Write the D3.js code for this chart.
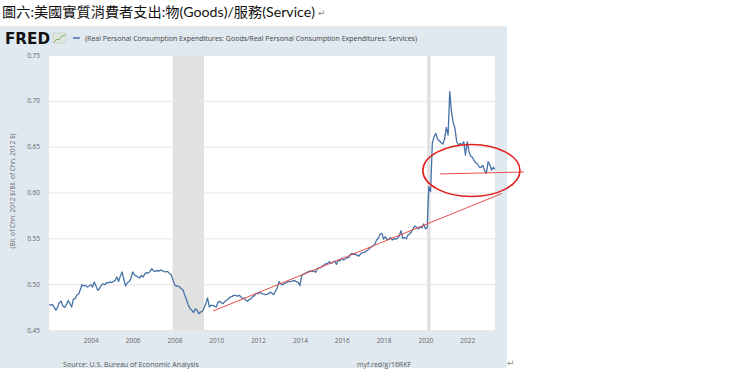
<!DOCTYPE html>
<html>
<head>
<meta charset="utf-8">
<script src="https://cdn.jsdelivr.net/npm/d3@7"></script>
<style>
  body { margin: 0; background: #fff; }
  svg { display: block; }
</style>
</head>
<body>
<div id="chart"></div>
<script>
// goods / services ratio, monthly from Jan 2002
const startMonth = new Date(2002, 0, 1);
const ratio = [
  0.4776, 0.477, 0.478, 0.475, 0.4715, 0.475, 0.480, 0.4815, 0.476, 0.4745, 0.4776, 0.482,   // 2002
  0.479, 0.475, 0.4835, 0.4842, 0.488, 0.489, 0.494, 0.4994, 0.498, 0.4987, 0.4969, 0.498,   // 2003
  0.4994, 0.4969, 0.5024, 0.498, 0.4933, 0.495, 0.4987, 0.5005, 0.4994, 0.5016, 0.5013, 0.5024, // 2004
  0.5016, 0.503, 0.504, 0.5078, 0.503, 0.509, 0.5133, 0.505, 0.498, 0.5016, 0.503, 0.506,   // 2005
  0.5133, 0.5104, 0.509, 0.5078, 0.5067, 0.5097, 0.5078, 0.511, 0.5126, 0.512, 0.514, 0.5169, // 2006
  0.5144, 0.514, 0.515, 0.514, 0.5155, 0.5148, 0.514, 0.5133, 0.514, 0.512, 0.5105, 0.506,  // 2007
  0.4995, 0.498, 0.498, 0.4969, 0.495, 0.4933, 0.4878, 0.4824, 0.4769, 0.4733, 0.4715, 0.469, // 2008
  0.4733, 0.4715, 0.4678, 0.4696, 0.4702, 0.474, 0.4787, 0.485, 0.4751, 0.4769, 0.4769, 0.476, // 2009
  0.4751, 0.4805, 0.4813, 0.4798, 0.4787, 0.4813, 0.4824, 0.4842, 0.486, 0.4864, 0.4878, 0.4878, // 2010
  0.487, 0.4878, 0.4867, 0.4842, 0.485, 0.4824, 0.4813, 0.4835, 0.4842, 0.4864, 0.4878, 0.49, // 2011
  0.4896, 0.4915, 0.4896, 0.4893, 0.4885, 0.4889, 0.4896, 0.4913, 0.490, 0.4889, 0.4925, 0.496, // 2012
  0.5027, 0.5002, 0.4991, 0.5009, 0.5013, 0.5027, 0.5027, 0.503, 0.5035, 0.504, 0.5027, 0.502, // 2013
  0.4984, 0.5093, 0.5107, 0.5118, 0.5129, 0.5136, 0.5144, 0.5136, 0.5144, 0.5129, 0.5165, 0.518, // 2014
  0.518, 0.52, 0.5209, 0.5224, 0.5227, 0.5245, 0.5227, 0.5238, 0.5253, 0.5216, 0.5264, 0.5253, // 2015
  0.5282, 0.5264, 0.5275, 0.5289, 0.5289, 0.5325, 0.5336, 0.5325, 0.5329, 0.531, 0.531, 0.5336, // 2016
  0.5343, 0.5347, 0.536, 0.5373, 0.5391, 0.5405, 0.542, 0.5435, 0.5482, 0.55, 0.5544, 0.5555, // 2017
  0.549, 0.5518, 0.5489, 0.5489, 0.551, 0.5482, 0.5496, 0.5489, 0.5504, 0.5525, 0.5584, 0.55, // 2018
  0.551, 0.5496, 0.5533, 0.5547, 0.5569, 0.5605, 0.5635, 0.562, 0.5605, 0.5627, 0.5613, 0.5656, // 2019
  0.5605, 0.5613, 0.6064, 0.6009, 0.6536, 0.661, 0.6645, 0.658, 0.6565, 0.6543, 0.6529, 0.658, // 2020
  0.671, 0.6627, 0.71, 0.688, 0.6762, 0.67, 0.6554, 0.6518, 0.6536, 0.6518, 0.6554, 0.6409,  // 2021
  0.6554, 0.6445, 0.6398, 0.6384, 0.6347, 0.6325, 0.6311, 0.6275, 0.6275, 0.6296, 0.6238, 0.6209, // 2022
  0.6336, 0.63, 0.6245, 0.6275, 0.6253                                                       // 2023
];

// shaded recessions
const recessions = [
  [new Date(2007, 11, 1), new Date(2009, 5, 1)],
  [new Date(2020, 1, 1), new Date(2020, 3, 1)]
];

const yTicks = [0.45, 0.50, 0.55, 0.60, 0.65, 0.70, 0.75];
const xTickYears = [2004, 2006, 2008, 2010, 2012, 2014, 2016, 2018, 2020, 2022];

// hand-drawn red marks, in data units
const trendLine = [[new Date(2009, 10, 7), 0.4707], [new Date(2023, 7, 28), 0.5989]];
const flatLine = [[new Date(2020, 8, 10), 0.6202], [new Date(2024, 8, 18), 0.6224]];
const circleBox = { left: new Date(2019, 10, 18), right: new Date(2024, 6, 10), top: 0.6524, bottom: 0.5956 };

const titleText = "圖六:美國實質消費者支出:物(Goods)/服務(Service)";
const legendText = "(Real Personal Consumption Expenditures: Goods/Real Personal Consumption Expenditures: Services)";
const yLabel = "(Bil. of Chn. 2012 $/Bil. of Chn. 2012 $)";
const sourceText = "Source: U.S. Bureau of Economic Analysis";
const linkText = "myf.red/g/16RKF";

var width = 740, height = 372;
var plot = { left: 49, right: 495, top: 55, bottom: 330 };

var svg = d3.select("#chart").append("svg")
    .attr("width", width)
    .attr("height", height);

// title above the chart image
svg.append("text")
    .attr("x", 2).attr("y", 17)
    .attr("font-family", "Lato, 'Noto Sans CJK TC', sans-serif")
    .attr("font-size", 14)
    .attr("fill", "#111")
    .attr("textLength", 313)
    .attr("lengthAdjust", "spacingAndGlyphs")
    .text(titleText);
svg.append("text")
    .attr("x", 318).attr("y", 16)
    .attr("font-family", "DejaVu Sans")
    .attr("font-size", 9)
    .attr("fill", "#888")
    .text("↵");

// FRED panel
svg.append("rect")
    .attr("x", 0).attr("y", 26)
    .attr("width", 507).attr("height", 342)
    .attr("fill", "#e1e9f0");

svg.append("rect")
    .attr("x", plot.left).attr("y", plot.top)
    .attr("width", plot.right - plot.left)
    .attr("height", plot.bottom - plot.top)
    .attr("fill", "#fff");

// logo + legend
svg.append("text")
    .attr("x", 5).attr("y", 44)
    .attr("font-family", "'DejaVu Sans', sans-serif")
    .attr("font-weight", "bold")
    .attr("font-size", 15)
    .attr("fill", "#111")
    .attr("textLength", 45)
    .attr("lengthAdjust", "spacingAndGlyphs")
    .text("FRED");

var icon = svg.append("g").attr("transform", "translate(53,33)");
icon.append("rect")
    .attr("width", 13).attr("height", 10)
    .attr("fill", "#dfe6dc").attr("stroke", "#b8c4b8").attr("stroke-width", 0.5);
icon.append("polyline")
    .attr("points", "1,9 4,6 6,7 9,3 12,2")
    .attr("fill", "none").attr("stroke", "#7fae6a").attr("stroke-width", 1);

svg.append("line")
    .attr("x1", 73).attr("x2", 80)
    .attr("y1", 38).attr("y2", 38)
    .attr("stroke", "#4572a7").attr("stroke-width", 1.5);

svg.append("text")
    .attr("x", 85).attr("y", 40.5)
    .attr("font-family", "'Open Sans', sans-serif")
    .attr("font-size", 7)
    .attr("fill", "#444")
    .attr("textLength", 332)
    .attr("lengthAdjust", "spacingAndGlyphs")
    .text(legendText);

// scales
var x = d3.scaleTime()
    .domain([startMonth, new Date(2023, 4, 1)])
    .range([plot.left, plot.right]);

var y = d3.scaleLinear()
    .domain([0.45, 0.75])
    .range([plot.bottom, plot.top]);

// recession bars
svg.append("g").selectAll("rect")
    .data(recessions)
    .enter().append("rect")
    .attr("x", d => x(d[0]))
    .attr("width", d => x(d[1]) - x(d[0]))
    .attr("y", plot.top)
    .attr("height", plot.bottom - plot.top)
    .attr("fill", "#e1e1e1");

// y axis with grid
var yAxis = svg.append("g")
    .attr("transform", "translate(" + plot.left + ",0)")
    .call(d3.axisLeft(y)
        .tickValues(yTicks)
        .tickFormat(d3.format(".2f"))
        .tickSize(-(plot.right - plot.left))
        .tickPadding(9));
yAxis.select(".domain").remove();
yAxis.selectAll("line").attr("stroke", "#e6e6e6").attr("stroke-width", 1);
yAxis.selectAll("text")
    .attr("font-family", "'Open Sans', sans-serif")
    .attr("font-size", 6.5)
    .attr("fill", "#666");

// x axis
var xAxis = svg.append("g")
    .attr("transform", "translate(0," + plot.bottom + ")")
    .call(d3.axisBottom(x)
        .tickValues(xTickYears.map(yr => new Date(yr, 0, 1)))
        .tickFormat(d3.timeFormat("%Y"))
        .tickSize(0)
        .tickPadding(8));
xAxis.select(".domain").remove();
xAxis.selectAll("text")
    .attr("font-family", "'Open Sans', sans-serif")
    .attr("font-size", 6.5)
    .attr("fill", "#666");

// y label
svg.append("text")
    .attr("transform", "translate(15,191) rotate(-90)")
    .attr("text-anchor", "middle")
    .attr("font-family", "'Open Sans', sans-serif")
    .attr("font-size", 6.5)
    .attr("fill", "#666")
    .text(yLabel);

// the series
var line = d3.line()
    .x((d, i) => x(d3.timeMonth.offset(startMonth, i)))
    .y(d => y(d));

svg.append("path")
    .datum(ratio)
    .attr("d", line)
    .attr("fill", "none")
    .attr("stroke", "#4572a7")
    .attr("stroke-width", 1.3)
    .attr("stroke-linejoin", "round");

// red marks drawn on top
var redLine = d3.line()
    .x(d => x(d[0]))
    .y(d => y(d[1]));

svg.append("path")
    .attr("d", redLine(trendLine))
    .attr("fill", "none")
    .attr("stroke", "#e8504a")
    .attr("stroke-width", 1);

svg.append("path")
    .attr("d", redLine(flatLine))
    .attr("fill", "none")
    .attr("stroke", "#e8504a")
    .attr("stroke-width", 1);

svg.append("ellipse")
    .attr("cx", (x(circleBox.left) + x(circleBox.right)) / 2)
    .attr("cy", (y(circleBox.top) + y(circleBox.bottom)) / 2)
    .attr("rx", (x(circleBox.right) - x(circleBox.left)) / 2)
    .attr("ry", (y(circleBox.bottom) - y(circleBox.top)) / 2)
    .attr("fill", "none")
    .attr("stroke", "#e0201c")
    .attr("stroke-width", 1.6);

// footer
svg.append("text")
    .attr("x", 63).attr("y", 366.5)
    .attr("font-family", "'Open Sans', sans-serif")
    .attr("font-size", 7)
    .attr("fill", "#555")
    .attr("textLength", 136)
    .attr("lengthAdjust", "spacingAndGlyphs")
    .text(sourceText);

svg.append("text")
    .attr("x", 357).attr("y", 366.5)
    .attr("font-family", "'Open Sans', sans-serif")
    .attr("font-size", 7)
    .attr("fill", "#555")
    .attr("textLength", 54)
    .attr("lengthAdjust", "spacingAndGlyphs")
    .text(linkText);

svg.append("text")
    .attr("x", 507).attr("y", 366)
    .attr("font-family", "DejaVu Sans")
    .attr("font-size", 9)
    .attr("fill", "#888")
    .text("↵");
</script>
</body>
</html>
